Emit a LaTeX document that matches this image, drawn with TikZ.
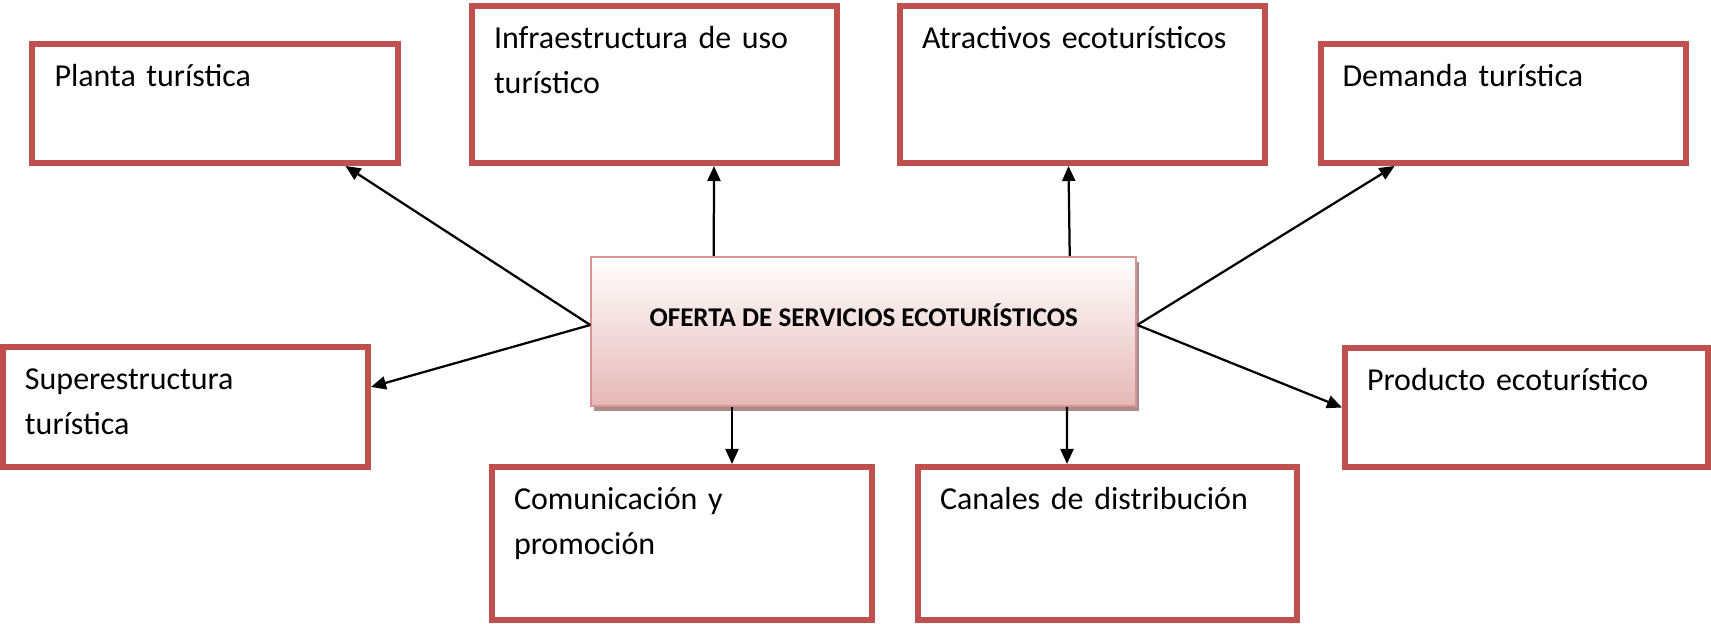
\documentclass[tikz,border=0pt]{standalone}
\usepackage{fontspec}
\setmainfont{Carlito}
\usepackage{xcolor}
\usepackage{tikz}
\usetikzlibrary{arrows.meta,shadows,positioning}
\definecolor{boxred}{RGB}{192,80,77}
\definecolor{hubline}{RGB}{217,149,148}
\definecolor{hubpink}{RGB}{229,184,183}
\definecolor{hubshadow}{RGB}{168,140,140}

\begin{document}
\begin{tikzpicture}[node distance=4.94cm, >={Triangle[length=0.3cm,width=0.26cm]}]
    \tikzstyle{box} = [rectangle, draw=boxred, line width=0.12cm, inner xsep=0.44cm, inner ysep=0cm, text width=6.42cm, text height=0.86cm, text depth=1.52cm, align=left, font=\fontsize{18.2}{25.6}\selectfont]
    \tikzstyle{hub} = [rectangle, draw=hubline, line width=0.04cm, top color=white, bottom color=hubpink, drop shadow={shadow xshift=0.06cm, shadow yshift=-0.1cm, fill=hubshadow, opacity=1}, minimum width=10.9cm, inner ysep=0cm, text height=1.4cm, text depth=1.58cm, font=\fontsize{15.4}{18}\selectfont\bfseries]
    \tikzstyle{link} = [->, line width=0.045cm]

    \useasboundingbox (0,0) rectangle (34.22,-12.48);

    % Central offer
    \node [hub] (hub) at (17.275,-6.63) {OFERTA DE SERVICIOS ECOTURÍSTICOS};

    % Top row
    \node [box, above of=hub, xshift=-12.975cm, yshift=-0.38cm] (planta) {Planta turística};
    \node [box, above of=hub, xshift=-4.185cm, text depth=2.28cm] (infra) {Infraestructura de uso\\turístico};
    \node [box, above of=hub, xshift=4.375cm, text depth=2.28cm] (atract) {Atractivos ecoturísticos};
    \node [box, above of=hub, xshift=12.785cm, yshift=-0.38cm] (demanda) {Demanda turística};

    % Sides
    \node [box, left of=hub, xshift=-8.625cm, yshift=-1.51cm, text depth=1.54cm] (super) {Superestructura\\turística};
    \node [box, right of=hub, xshift=8.315cm, yshift=-1.52cm, text width=6.38cm] (producto) {Producto ecoturístico};

    % Bottom row
    \node [box, below of=hub, xshift=-3.635cm, yshift=0.7cm, text width=6.72cm, text depth=2.2cm] (comun) {Comunicación y\\promoción};
    \node [box, below of=hub, xshift=4.875cm, yshift=0.7cm, text width=6.7cm, text depth=2.2cm] (canales) {Canales de distribución};

    % Connections
    \draw [link] ([yshift=0.13cm]hub.west) -- ([xshift=-1.1cm]planta.south east);
    \draw [link] ([xshift=-3cm]hub.north) -- ([xshift=1.19cm]infra.south);
    \draw [link] ([xshift=4.12cm]hub.north) -- ([xshift=-0.28cm]atract.south);
    \draw [link] ([yshift=0.13cm]hub.east) -- ([xshift=1.54cm]demanda.south west);
    \draw [link] ([yshift=0.13cm]hub.west) -- ([yshift=0.4cm]super.east);
    \draw [link] ([yshift=0.13cm]hub.east) -- (producto.west);
    \draw [link] ([xshift=-2.635cm]hub.south) -- ([xshift=1cm]comun.north);
    \draw [link] ([xshift=4.065cm]hub.south) -- ([xshift=-0.81cm]canales.north);
\end{tikzpicture}
\end{document}
